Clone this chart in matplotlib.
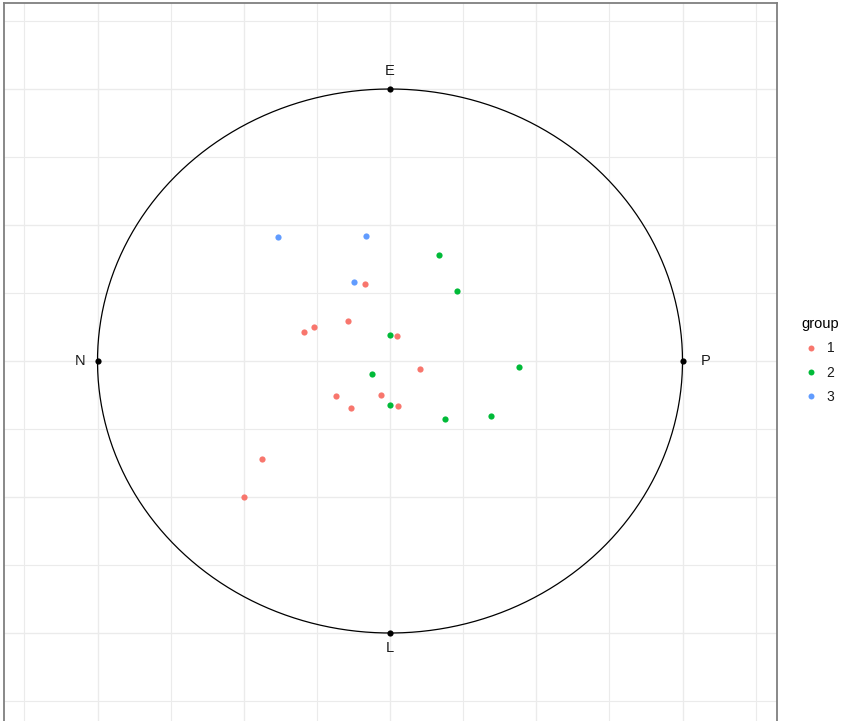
import numpy as np
import matplotlib
matplotlib.use("Agg")
import matplotlib.pyplot as plt
from matplotlib.lines import Line2D
from matplotlib.ticker import MultipleLocator

plt.rcParams['font.family'] = ['Liberation Sans', 'DejaVu Sans']

# data
x_vals = [-0.384, -0.083, -0.123,
          -0.087, -0.142, -0.259, -0.295, 0.024, 0.104, -0.186, -0.032, -0.134, 0.027, -0.438, -0.499,
          0.166, 0.229, 0.001, 0.441, -0.060, 0.001, 0.189, 0.346]
y_vals = [0.457, 0.461, 0.292,
          0.284, 0.146, 0.126, 0.107, 0.091, -0.031, -0.130, -0.125, -0.173, -0.165, -0.360, -0.500,
          0.391, 0.256, 0.094, -0.023, -0.047, -0.162, -0.213, -0.201]
groups = [3, 3, 3,
          1, 1, 1, 1, 1, 1, 1, 1, 1, 1, 1, 1,
          2, 2, 2, 2, 2, 2, 2, 2]
group_levels = [1, 2, 3]
group_colors = {1: "#F8766D", 2: "#00BA38", 3: "#619CFF"}

pole_labels = ["E", "N", "P", "L"]
pole_x = [0, -1, 1, 0]
pole_y = [1, 0, 0, -1]
label_off = [1.065, 1.06, 1.08, 1.055]

W, H = 843, 721
fig = plt.figure(figsize=(W / 100, H / 100), dpi=100)
left, right, top, bottom = 4, 777, 3, 722
ax = fig.add_axes([left / W, 1 - bottom / H, (right - left) / W, (bottom - top) / H])

cx, cy, rx, ry = 390, 361, 292.5, 272.0
ax.set_xlim((left - cx) / rx, (right - cx) / rx)
ax.set_ylim((cy - bottom) / ry, (cy - top) / ry)

ax.xaxis.set_major_locator(MultipleLocator(0.5))
ax.xaxis.set_minor_locator(MultipleLocator(0.25))
ax.yaxis.set_major_locator(MultipleLocator(0.5))
ax.yaxis.set_minor_locator(MultipleLocator(0.25))
ax.grid(True, which="major", color="#EBEBEB", lw=1.0)
ax.grid(True, which="minor", color="#EBEBEB", lw=0.8)
ax.set_axisbelow(True)
ax.tick_params(which="both", length=0, labelbottom=False, labelleft=False)
for s in ax.spines.values():
    s.set_color("#7F7F7F")
    s.set_linewidth(1.3)

# unit circle
t = np.linspace(0, 2 * np.pi, 400)
ax.plot(np.cos(t), np.sin(t), color="black", lw=0.9, zorder=2)

# poles
ax.scatter(pole_x, pole_y, s=20, color="black", zorder=3, linewidths=0)
for lab, px, py, off in zip(pole_labels, pole_x, pole_y, label_off):
    ax.text(px * off, py * off, lab, ha="center", va="center", fontsize=10.5, color="#1A1A1A")

# points
for g in group_levels:
    xs = [x for x, gg in zip(x_vals, groups) if gg == g]
    ys = [y for y, gg in zip(y_vals, groups) if gg == g]
    ax.scatter(xs, ys, s=20, color=group_colors[g], linewidths=0, zorder=4)

# legend
handles = [Line2D([], [], marker="o", ls="none", markersize=4.3, markerfacecolor=group_colors[g],
                  markeredgewidth=0, label=str(g)) for g in group_levels]
leg = fig.legend(handles=handles, title="group", loc="upper left",
                 bbox_to_anchor=(789 / W, 1 - 304.5 / H), frameon=False,
                 fontsize=10, title_fontsize=10.5, labelspacing=0.75,
                 handletextpad=0.5, handlelength=1.3)
leg._legend_box.align = "left"
for txt in leg.get_texts():
    txt.set_color("#1A1A1A")

fig.savefig("out.png", dpi=100)
